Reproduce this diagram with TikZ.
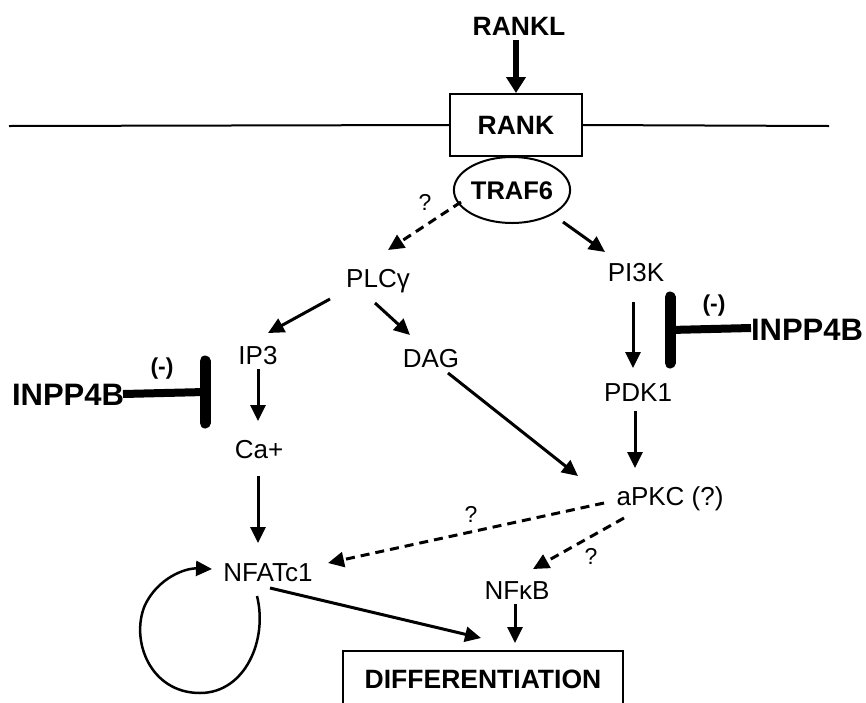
\documentclass[tikz,border=0pt]{standalone}
\usepackage{fontspec}
\setmainfont{Liberation Sans}
\usetikzlibrary{arrows.meta,shapes.geometric}
\tikzset{mol/.style={inner sep=0pt,text height=18pt,text depth=0pt,font=\fontsize{26}{30}\selectfont},
hd/.style={inner sep=0pt,text height=19pt,text depth=0pt,font=\fontsize{26.5}{30}\selectfont\bfseries},
inh/.style={inner sep=0pt,text height=22pt,text depth=0pt,font=\fontsize{31}{35}\selectfont\bfseries},
minus/.style={inner sep=0pt,font=\fontsize{23}{26}\selectfont\bfseries},
qm/.style={inner sep=0pt,font=\fontsize{23}{26}\selectfont},
arr/.style={-{Triangle[length=16pt,width=15pt]},line width=3pt},
darr/.style={arr,dash pattern=on 9pt off 6pt},
tbar/.style={line width=11pt,line cap=round},
tline/.style={line width=8pt}}

\begin{document}
\begin{tikzpicture}[x=1pt,y=-1pt]
\useasboundingbox (0,0) rectangle (866,702);
\clip (0,0) rectangle (866,702);
\node[hd,draw,line width=2pt,minimum width=132pt,minimum height=62pt] (rank) at (516,125) {RANK};
\node[hd] (rankl) at (519,26) {RANKL};
\coordinate (memL) at (9,126);
\coordinate (memR) at (829,126);
\draw[line width=2pt] (memL) -- (rank.west) (rank.east) -- (memR);
\draw[-{Triangle[length=16pt,width=19pt]},line width=6.5pt] ([shift={(-3,14)}]rankl.center) -- ([shift={(0,-32)}]rank.center);
\node[hd,ellipse,draw,line width=2pt,minimum width=97pt,minimum height=66pt,text height=18pt,font=\fontsize{25.5}{30}\selectfont\bfseries] (traf6) at (512,190) {TRAF6};

\node[mol] (plc) at (378,278) {PLCγ};
\node[mol] (pi3k) at (636,272) {PI3K};
\node[mol] (ip3) at (258,355) {IP3};
\node[mol] (dag) at (431,358) {DAG};
\node[mol] (ca) at (259,449) {Ca+};
\node[mol] (pdk1) at (638,392) {PDK1};
\node[mol] (apkc) at (670,496) {aPKC (?)};
\node[mol] (nfat) at (268,572) {NFATc1};
\node[mol] (nfkb) at (517,590) {NFκB};
\node[hd,draw,line width=2pt,anchor=base,minimum width=280pt,text height=19pt,text depth=35pt,inner ysep=18pt,inner xsep=0pt] (diff) at (483,688) {DIFFERENTIATION};

\node[qm] (q1) at (425,202) {?};
\node[qm] (q2) at (471,514) {?};
\node[qm] (q3) at (591,556) {?};

\draw[darr] ([shift={(-51,12)}]traf6.center) -- ([shift={(10,-28)}]plc.center);
\draw[arr] ([shift={(51,32)}]traf6.center) -- ([shift={(-31,-20)}]pi3k.center);
\draw[arr] ([shift={(-48,21)}]plc.center) -- ([shift={(10,-22)}]ip3.center);
\draw[arr] ([shift={(-3,25)}]plc.center) -- ([shift={(-21,-23)}]dag.center);
\draw[arr] ([shift={(0,14)}]ip3.center) -- ([shift={(-1,-28)}]ca.center);
\draw[arr] ([shift={(-1,27)}]ca.center) -- ([shift={(-10,-29)}]nfat.center);
\draw[arr] ([shift={(17,15)}]dag.center) -- ([shift={(-92,-20)}]apkc.center);
\draw[arr] ([shift={(-3,30)}]pi3k.center) -- ([shift={(-5,-24)}]pdk1.center);
\draw[arr] ([shift={(-3,19)}]pdk1.center) -- ([shift={(-35,-28)}]apkc.center);
\draw[darr] ([shift={(-66,7)}]apkc.center) -- ([shift={(60,-9)}]nfat.center);
\draw[darr] ([shift={(-46,22)}]apkc.center) -- ([shift={(16,-21)}]nfkb.center);
\draw[arr] ([shift={(-2,14)}]nfkb.center) -- ([shift={(32,-45)}]diff.base);
\draw[arr] ([shift={(2,16)}]nfat.center) -- ([shift={(-2,-50)}]diff.base);
\draw[arr,line width=2.5pt] ([shift={(-11,24)}]nfat.center)
  .. controls +(11,44) and +(45,0) .. ([shift={(-68,121)}]nfat.center)
  .. controls +(-50,0) and +(-15,35) .. ([shift={(-123,33)}]nfat.center)
  .. controls +(13,-27) and +(-27,-1) .. ([shift={(-56,-3)}]nfat.center);

\node[inh] (inpL) at (68,394) {INPP4B};
\coordinate (barL) at (205,392);
\draw[tline] ([shift={(55,0)}]inpL.center) -- (barL);
\draw[tbar] (barL) ++(0,-31) -- ++(0,62);
\node[minus] (mL) at (162,369) {(-)};

\node[inh] (inpR) at (807,329) {INPP4B};
\coordinate (barR) at (670,330);
\draw[tline] ([shift={(-56,-1)}]inpR.center) -- (barR);
\draw[tbar] (barR) ++(0,-33) -- ++(0,66);
\node[minus] (mR) at (714,306) {(-)};
\end{tikzpicture}
\end{document}
